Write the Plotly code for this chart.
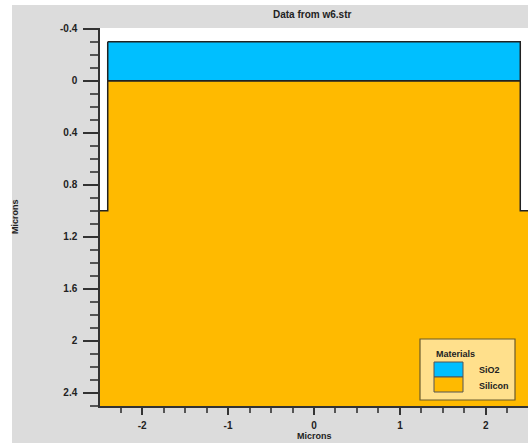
import plotly.graph_objects as go

# ---- data ----
materials = ["SiO2", "Silicon"]
colors = ["#00BFFF", "#FFBA00"]
sio2_x = [-2.4, 2.4, 2.4, -2.4, -2.4]
sio2_y = [-0.3, -0.3, 0.0, 0.0, -0.3]
si_x = [-2.4, 2.4, 2.4, 2.6, 2.6, -2.6, -2.6, -2.4, -2.4]
si_y = [0.0, 0.0, 1.0, 1.0, 2.6, 2.6, 1.0, 1.0, 0.0]
x_ticks = [-2, -1, 0, 1, 2]
y_ticks = [-0.4, 0, 0.4, 0.8, 1.2, 1.6, 2, 2.4]
title = "Data from w6.str"

W, H = 528, 446
L, R, T, B = 100, 0, 28, 40
pw, ph = W - L - R, H - T - B


def px(x):
    return (x - L) / pw


def py(y):
    return (H - B - y) / ph


fig = go.Figure()
fig.add_trace(go.Scatter(x=si_x, y=si_y, fill="toself", fillcolor=colors[1],
                         mode="lines", line=dict(color="#222", width=1.5),
                         name=materials[1], hoverinfo="skip"))
fig.add_trace(go.Scatter(x=sio2_x, y=sio2_y, fill="toself", fillcolor=colors[0],
                         mode="lines", line=dict(color="#222", width=1.5),
                         name=materials[0], hoverinfo="skip"))

tickfont = dict(family="Liberation Sans", size=10, color="#222", weight="bold")

fig.update_xaxes(range=[-2.49, 2.49], tickvals=x_ticks, ticktext=[f"{v:g}" for v in x_ticks],
                 ticks="outside", ticklen=7, tickwidth=2, tickcolor="#333",
                 minor=dict(dtick=0.25, tick0=0, ticks="outside", ticklen=5, tickwidth=1.5, tickcolor="#555"),
                 showline=True, linecolor="#333", linewidth=1.5, showgrid=False, zeroline=False,
                 tickfont=tickfont, ticklabelstandoff=2)
fig.update_yaxes(range=[2.5, -0.405], tickvals=y_ticks, ticktext=[f"{v:g}" for v in y_ticks],
                 ticks="outside", ticklen=15, tickwidth=2, tickcolor="#333",
                 minor=dict(dtick=0.1, tick0=0, ticks="outside", ticklen=8, tickwidth=1.5, tickcolor="#555"),
                 showline=True, linecolor="#333", linewidth=1.5, showgrid=False, zeroline=False,
                 tickfont=tickfont, ticklabelstandoff=4)

shapes = [
    dict(type="rect", xref="paper", yref="paper", x0=px(12), x1=px(W + 5), y0=py(443), y1=py(5),
         fillcolor="#DCDCDC", line=dict(width=0), layer="below"),
    dict(type="rect", xref="paper", yref="paper", x0=0, x1=1.02, y0=0, y1=1,
         fillcolor="white", line=dict(width=0), layer="below"),
    # legend box
    dict(type="rect", xref="paper", yref="paper", x0=px(420), x1=px(515), y0=py(400), y1=py(339),
         fillcolor="#FFE08C", line=dict(color="#6b5a2a", width=1.2), layer="above"),
    dict(type="rect", xref="paper", yref="paper", x0=px(434), x1=px(463), y0=py(377), y1=py(362),
         fillcolor=colors[0], line=dict(color="#555", width=1), layer="above"),
    dict(type="rect", xref="paper", yref="paper", x0=px(434), x1=px(463), y0=py(392), y1=py(377),
         fillcolor=colors[1], line=dict(color="#555", width=1), layer="above"),
]

lf = dict(family="Liberation Sans", size=9, color="#222", weight="bold")
annotations = [
    dict(text=title, xref="paper", yref="paper", x=px(312), y=py(15), showarrow=False,
         xanchor="center", yanchor="middle",
         font=dict(family="Liberation Sans", size=10, color="#222", weight="bold")),
    dict(text="Microns", xref="paper", yref="paper", x=px(314), y=py(436), showarrow=False,
         xanchor="center", yanchor="middle", font=lf),
    dict(text="Microns", xref="paper", yref="paper", x=px(15), y=py(217), showarrow=False,
         xanchor="center", yanchor="middle", textangle=-90, font=lf),
    dict(text="Materials", xref="paper", yref="paper", x=px(434), y=py(354), showarrow=False,
         xanchor="left", yanchor="middle", font=lf),
    dict(text=materials[0], xref="paper", yref="paper", x=px(477), y=py(370), showarrow=False,
         xanchor="left", yanchor="middle", font=lf),
    dict(text=materials[1], xref="paper", yref="paper", x=px(477), y=py(386), showarrow=False,
         xanchor="left", yanchor="middle", font=lf),
]

fig.update_layout(width=W, height=H, margin=dict(l=L, r=R, t=T, b=B),
                  paper_bgcolor="white", plot_bgcolor="rgba(0,0,0,0)",
                  showlegend=False, shapes=shapes, annotations=annotations)

fig.write_html("out.html")
